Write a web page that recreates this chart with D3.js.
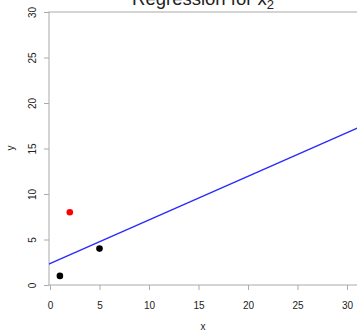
<!DOCTYPE html>
<html>
<head>
<meta charset="utf-8">
<script src="https://cdn.jsdelivr.net/npm/d3@7"></script>
<style>
  html, body { margin: 0; padding: 0; background: #fff; }
  svg { display: block; }
  text { font-family: "Liberation Sans", Arial, sans-serif; fill: #222; }
</style>
</head>
<body>
<svg id="chart" width="357" height="331"></svg>
<script>
// Observations
const xs = [1, 5, 2];
const ys = [1, 4, 8];
const pointColors = ["black", "black", "red"];
// Fitted regression line
const intercept = 2.35;
const slope = 0.48;
// Axis ticks
const xTicks = [0, 5, 10, 15, 20, 25, 30];
const yTicks = [0, 5, 10, 15, 20, 25, 30];

const svg = d3.select("#chart");
const box = { left: 49, top: 12, bottom: 285, right: 370 };

const x = d3.scaleLinear().domain([0, 30]).range([50, 347]);
const y = d3.scaleLinear().domain([0, 30]).range([285, 12]);

// Title
const title = svg.append("text")
  .attr("x", 203).attr("y", 5)
  .attr("text-anchor", "middle")
  .style("font-size", "18.5px");
title.append("tspan").text("Regression for x");
title.append("tspan").attr("dy", 4).style("font-size", "13px").text("2");

// Plot box
svg.append("rect")
  .attr("x", box.left).attr("y", box.top)
  .attr("width", box.right - box.left).attr("height", box.bottom - box.top)
  .attr("fill", "none").attr("stroke", "#aaa").attr("stroke-width", 1);

// X axis
const xAxis = svg.append("g").attr("transform", `translate(0,${box.bottom})`)
  .call(d3.axisBottom(x).tickValues(xTicks).tickSize(5).tickPadding(12).tickFormat(d3.format("d")));
xAxis.select(".domain").remove();
xAxis.selectAll("line").attr("stroke", "#aaa");
xAxis.selectAll("text").style("font-size", "10px").style("font-family", "Liberation Sans, Arial, sans-serif").attr("fill", "#222");

// Y axis with rotated labels
const yAxis = svg.append("g").attr("transform", `translate(${box.left},0)`)
  .call(d3.axisLeft(y).tickValues(yTicks).tickSize(5).tickFormat(d3.format("d")));
yAxis.select(".domain").remove();
yAxis.selectAll("line").attr("stroke", "#aaa");
yAxis.selectAll("text")
  .style("font-size", "10px").style("font-family", "Liberation Sans, Arial, sans-serif")
  .attr("fill", "#222")
  .attr("x", 0).attr("dy", null)
  .attr("text-anchor", "middle")
  .attr("transform", "translate(-17,0) rotate(-90)")
  .attr("y", 3.5);

// Axis titles
svg.append("text").attr("x", 203).attr("y", 330)
  .attr("text-anchor", "middle").style("font-size", "10px").text("x");
svg.append("text")
  .attr("transform", "translate(14,148) rotate(-90)")
  .attr("text-anchor", "middle").style("font-size", "10px").text("y");

// Clip to plot region
svg.append("clipPath").attr("id", "plotclip")
  .append("rect").attr("x", box.left).attr("y", box.top)
  .attr("width", box.right - box.left).attr("height", box.bottom - box.top);

const plot = svg.append("g").attr("clip-path", "url(#plotclip)");

// Regression line
const lineX = [-1, 32];
plot.append("path")
  .datum(lineX)
  .attr("d", d3.line().x(d => x(d)).y(d => y(intercept + slope * d)))
  .attr("stroke", "#2a2aff").attr("stroke-width", 1.4).attr("fill", "none");

// Points
plot.selectAll("circle.pt")
  .data(xs.map((v, i) => ({ x: v, y: ys[i], c: pointColors[i] })))
  .join("circle")
  .attr("class", "pt")
  .attr("cx", d => x(d.x)).attr("cy", d => y(d.y))
  .attr("r", 3.3)
  .attr("fill", d => d.c);
</script>
</body>
</html>
